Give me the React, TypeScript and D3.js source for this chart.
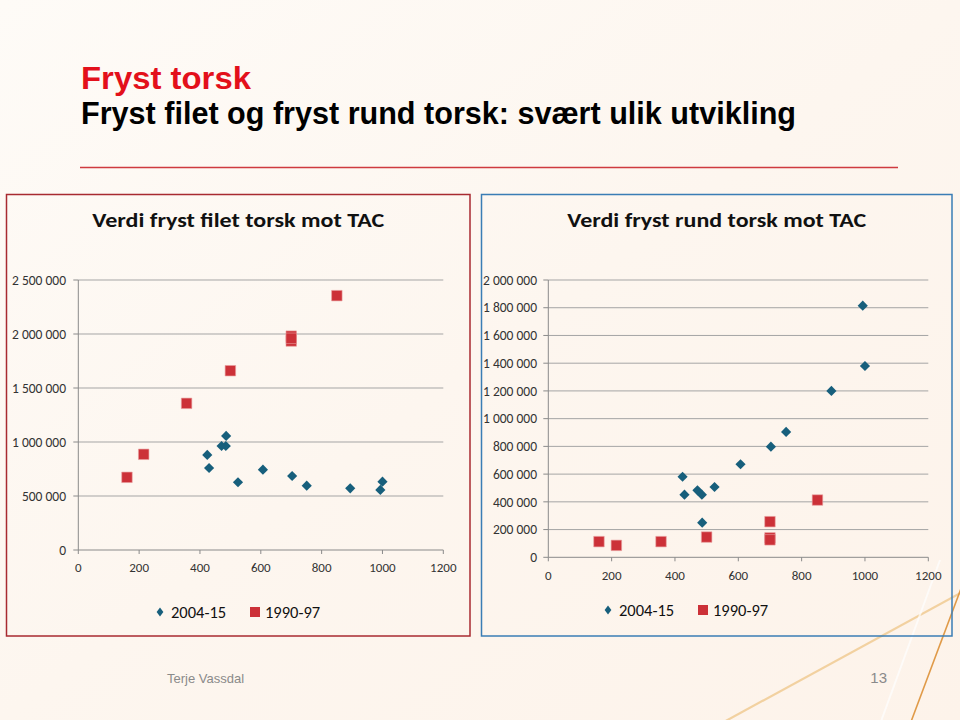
import React from "react";
import * as d3 from "d3";

// ---- data ----
const seriesNames = ["2004-15", "1990-97"];
const tacNew = [486, 485, 471, 424, 430, 525, 607, 703, 751, 1000, 993, 894];
const filetNew = [1056000, 963000, 963000, 880000, 759000, 627000, 744000, 685000, 596000, 633000, 556000, 571000];
const rundNew = [250000, 452000, 483000, 581000, 452000, 507000, 671000, 798000, 904000, 1380000, 1815000, 1200000];
const tacOld = [160, 215, 356, 500, 700, 700, 700, 850];
const filetOld = [673000, 886000, 1358000, 1660000, 1935000, 1980000, 1960000, 2355000];
const rundOld = [113000, 86000, 113000, 146000, 257000, 140000, 126000, 413000];
const xTicks = [0, 200, 400, 600, 800, 1000, 1200];
const yTicksFilet = [0, 500000, 1000000, 1500000, 2000000, 2500000];
const yTicksRund = [0, 200000, 400000, 600000, 800000, 1000000, 1200000, 1400000, 1600000, 1800000, 2000000];

const BLUE = "#175f7c";
const RED = "#cc3138";
const FONT = "Carlito, Lato, sans-serif";

const fmt = d3.formatLocale({ decimal: ",", thousands: "\u00a0", grouping: [3], currency: ["", ""] }).format(",d");

type ChartProps = {
  box: [number, number, number, number];
  border: string;
  title: string;
  titleLen: number;
  titleY: number;
  xr: [number, number];
  yr: [number, number];
  yMax: number;
  yTicks: number[];
  yLabelX: number;
  xLabelY: number;
  xFont: number;
  newVals: number[];
  oldVals: number[];
  legendX: number;
  legendY: number;
};

function Chart(p: ChartProps) {
  const [bx, by, bw, bh] = p.box;
  const x = d3.scaleLinear().domain([0, 1200]).range(p.xr);
  const y = d3.scaleLinear().domain([0, p.yMax]).range(p.yr);
  const diamond = d3.symbol().type(d3.symbolDiamond2).size(66)();
  const square = d3.symbol().type(d3.symbolSquare).size(110)();
  const legendDiamond = d3.symbol().type(d3.symbolDiamond2).size(40)();
  return (
    <g>
      <rect x={bx} y={by} width={bw} height={bh} fill="none" stroke={p.border} strokeWidth={1.5} />
      <text x={bx + bw / 2} y={p.titleY} textAnchor="middle" fontFamily={FONT} fontWeight="bold" fontSize={21}
        textLength={p.titleLen} lengthAdjust="spacingAndGlyphs" fill="#111">{p.title}</text>
      {p.yTicks.map((t) => (
        <g key={"y" + t}>
          {t > 0 && <line x1={p.xr[0]} x2={p.xr[1]} y1={y(t)} y2={y(t)} stroke="#a5a5a5" strokeWidth={1} />}
          <line x1={p.xr[0] - 5} x2={p.xr[0]} y1={y(t)} y2={y(t)} stroke="#8a8a8a" />
          <text x={p.yLabelX} y={y(t)} dy="0.35em" textAnchor="end" fontFamily={FONT} fontSize={13.5} fill="#333">{fmt(t)}</text>
        </g>
      ))}
      {xTicks.map((t) => (
        <g key={"x" + t}>
          <line x1={x(t)} x2={x(t)} y1={p.yr[0]} y2={p.yr[0] + 4} stroke="#8a8a8a" />
          <text x={x(t)} y={p.xLabelY} dy="0.35em" textAnchor="middle" fontFamily={FONT} fontSize={p.xFont} fill="#333">{t}</text>
        </g>
      ))}
      <line x1={p.xr[0]} x2={p.xr[0]} y1={p.yr[0]} y2={p.yr[1]} stroke="#8a8a8a" />
      <line x1={p.xr[0]} x2={p.xr[1]} y1={p.yr[0]} y2={p.yr[0]} stroke="#8a8a8a" />
      {tacNew.map((v, i) => (
        <path key={"n" + i} d={diamond!} transform={`translate(${x(v)},${y(p.newVals[i])})`} fill={BLUE} />
      ))}
      {tacOld.map((v, i) => (
        <path key={"o" + i} d={square!} transform={`translate(${x(v)},${y(p.oldVals[i])})`} fill={RED} stroke="#e9a0a0" strokeWidth={0.6} />
      ))}
      <g transform={`translate(${p.legendX},${p.legendY})`}>
        <path d={legendDiamond!} transform="scale(0.85,1.15)" fill={BLUE} />
        <text x={11} y={0} dy="0.35em" fontFamily={FONT} fontSize={16.5} fill="#111">{seriesNames[0]}</text>
        <rect x={90} y={-5} width={10} height={10} fill={RED} />
        <text x={105} y={0} dy="0.35em" fontFamily={FONT} fontSize={16.5} fill="#111">{seriesNames[1]}</text>
      </g>
    </g>
  );
}

export default function App() {
  return (
    <svg width={960} height={720} style={{ position: "absolute", left: 0, top: 0 }} xmlns="http://www.w3.org/2000/svg">
      <defs>
        <linearGradient id="bg" x1="0" y1="0" x2="1" y2="1">
          <stop offset="0" stopColor="#fefbf7" />
          <stop offset="0.5" stopColor="#fdf6ef" />
          <stop offset="1" stopColor="#fdf3ea" />
        </linearGradient>
      </defs>
      <rect width={960} height={720} fill="url(#bg)" />
      {/* decorative lines */}
      <line x1={700} y1={735} x2={975} y2={585} stroke="#f2d1a0" strokeWidth={2.2} />
      <line x1={906} y1={735} x2={965} y2={578} stroke="#e09a48" strokeWidth={1.6} />
      <line x1={876} y1={735} x2={940} y2={560} stroke="#ffffff" strokeWidth={2} opacity={0.7} />

      <text x={81} y={89} fontFamily="Liberation Sans, Arial, sans-serif" fontWeight="bold" fontSize={31}
        fill="#e3101b" textLength={170} lengthAdjust="spacingAndGlyphs">Fryst torsk</text>
      <text x={81} y={124} fontFamily="Liberation Sans, Arial, sans-serif" fontWeight="bold" fontSize={31}
        fill="#000" textLength={715} lengthAdjust="spacingAndGlyphs">Fryst filet og fryst rund torsk: svært ulik utvikling</text>
      <line x1={80} x2={898} y1={167.5} y2={167.5} stroke="#cf3a3f" strokeWidth={1.5} />

      <Chart box={[6.5, 194.5, 463.5, 441.5]} border="#a82a30" title="Verdi fryst filet torsk mot TAC" titleLen={292} titleY={227}
        xr={[78.3, 443.3]} yr={[550, 280]} yMax={2500000} yTicks={yTicksFilet} yLabelX={66} xLabelY={567} xFont={13}
        newVals={filetNew} oldVals={filetOld} legendX={160} legendY={612} />
      <Chart box={[481.5, 194.5, 470.5, 441.5]} border="#3a7db5" title="Verdi fryst rund torsk mot TAC" titleLen={299} titleY={227}
        xr={[548.3, 928.3]} yr={[557.3, 280]} yMax={2000000} yTicks={yTicksRund} yLabelX={537} xLabelY={575} xFont={13}
        newVals={rundNew} oldVals={rundOld} legendX={608} legendY={610} />

      <text x={167} y={683} fontFamily="Liberation Sans, Arial, sans-serif" fontSize={13} fill="#8a8a8a">Terje Vassdal</text>
      <text x={887} y={683} textAnchor="end" fontFamily="Liberation Sans, Arial, sans-serif" fontSize={15} fill="#8a8a8a">13</text>
    </svg>
  );
}
